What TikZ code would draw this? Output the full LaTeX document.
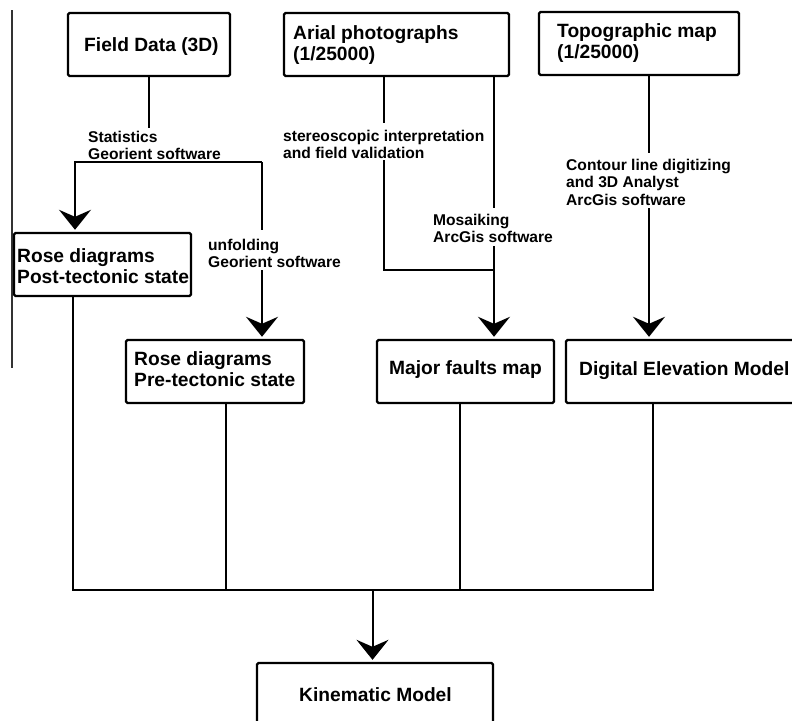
\documentclass[tikz,border=0pt]{standalone}
\usepackage{fontspec}
\setmainfont{Liberation Sans}
\usetikzlibrary{arrows.meta}
\begin{document}
\begin{tikzpicture}[x=1pt,y=-1pt,
  boxnode/.style={draw,line width=2.4pt,rounded corners=1.5pt,minimum width=#1,minimum height=63pt,inner sep=0pt},
  boxtext/.style={anchor=west,align=left,inner sep=0pt,font=\fontsize{19.2}{21}\selectfont\bfseries},
  lbl/.style={anchor=west,align=left,inner sep=0pt,font=\fontsize{15.6}{17.5}\selectfont\bfseries},
  conn/.style={line width=2pt},
  arr/.style={line width=2pt,-{Stealth[length=20pt,width=32pt,inset=7pt]},shorten >=2pt}]
\useasboundingbox (0,0) rectangle (792,720);
\clip (0,0) rectangle (792,720);
\fill[white] (0,0) rectangle (792,720);
% thin left margin line
\coordinate (mt) at (12,10);
\coordinate (mb) at (12,368);
\draw[line width=1.3pt,black!80] (mt) -- (mb);
% boxes
\node[boxnode=162pt] (fd) at (149,44.5) {};
\node[boxnode=225pt] (ap) at (396.5,44.5) {};
\node[boxnode=200pt] (tm) at (639,43.5) {};
\node[boxnode=177pt] (rpost) at (102.5,264.5) {};
\node[boxnode=178pt] (rpre) at (215,371.5) {};
\node[boxnode=177pt] (mf) at (465.5,371.5) {};
\node[boxnode=240pt] (dem) at (686,371.5) {};
\node[boxnode=236pt,minimum height=90pt] (km) at (375,708) {};
% box texts
\node[boxtext] (tfd) at (84,47) {Field Data (3D)};
\node[boxtext] (tap) at (293,45) {Arial photographs\\(1/25000)};
\node[boxtext] (ttm) at (557,43) {Topographic map\\(1/25000)};
\node[boxtext] (trpost) at (17,266.5) {Rose diagrams\\Post-tectonic state};
\node[boxtext] (trpre) at (134,369.5) {Rose diagrams\\Pre-tectonic state};
\node[boxtext] (tmf) at (389,370) {Major faults map};
\node[boxtext] (tdem) at (579,371) {Digital Elevation Model};
\node[boxtext] (tkm) at (299,695) {Kinematic Model};
% labels
\node[lbl] (l1) at (88,145.5) {Statistics\\Georient software};
\node[lbl] (l2) at (208,253.5) {unfolding\\Georient software};
\node[lbl] (l3) at (283,144.5) {stereoscopic interpretation\\and field validation};
\node[lbl] (l4) at (433,228.5) {Mosaiking\\ArcGis software};
\node[lbl] (l5) at (566,182) {Contour line digitizing\\and 3D Analyst\\ArcGis software};
% coordinates
\coordinate (a1) at (149,128);
\coordinate (a2) at (75,162);
\coordinate (a3) at (262,162);
\coordinate (a4) at (262,230);
\coordinate (a5) at (262,270);
\coordinate (b1) at (384,123);
\coordinate (b2) at (384,160);
\coordinate (b3) at (384,270);
\coordinate (b4) at (494,208);
\coordinate (b5) at (494,246);
\coordinate (b6) at (494,270);
\coordinate (c1) at (649,153);
\coordinate (c2) at (649,208);
\coordinate (d1) at (73,590);
\coordinate (d2) at (226,590);
\coordinate (d3) at (460,590);
\coordinate (d4) at (653,590);
\coordinate (d5) at (372.5,590);
% connectors
\draw[conn] (fd.south) -- (a1);
\draw[arr] (a3) -- (a2) -- (a2 |- rpost.north);
\draw[conn] (a3) -- (a4);
\draw[arr] (a5) -- (a5 |- rpre.north);
\draw[conn] (b1 |- ap.south) -- (b1);
\draw[conn] (b2) -- (b3) -- (b6);
\draw[conn] (b4 |- ap.south) -- (b4);
\draw[arr] (b5) -- (b5 |- mf.north);
\draw[conn] (c1 |- tm.south) -- (c1);
\draw[arr] (c2) -- (c2 |- dem.north);
\draw[conn] (d1 |- rpost.south) -- (d1) -- (d4) -- (d4 |- dem.south);
\draw[conn] (d2 |- rpre.south) -- (d2);
\draw[conn] (d3 |- mf.south) -- (d3);
\draw[arr] (d5) -- (d5 |- km.north);
\end{tikzpicture}
\end{document}
